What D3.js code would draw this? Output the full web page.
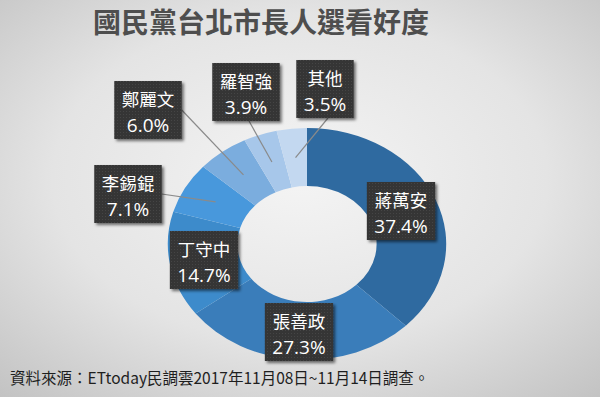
<!DOCTYPE html>
<html>
<head>
<meta charset="utf-8">
<script src="https://cdn.jsdelivr.net/npm/d3@7"></script>
<style>
  body { margin: 0; }
  svg { display: block; }
</style>
</head>
<body>
<svg id="chart" width="600" height="397"></svg>
<script>
// data
const names = ['蔣萬安', '張善政', '丁守中', '李錫錕', '鄭麗文', '羅智強', '其他'];
const shares = [37.4, 27.3, 14.7, 7.1, 6.0, 3.9, 3.5];
const colors = ['#2f6aa0', '#3a7dba', '#3d8bcb', '#4898dc', '#7badde', '#a7c7ea', '#c3d8f0'];

// label box centres and where the leader line leaves the box (layout only)
const boxCenters = [[401, 211], [299, 332], [204, 260], [128, 194], [148, 110], [246, 92], [325, 89]];
const anchors = [null, null, null, 'right', 'right', 'bottom', 'bottom'];

const title = '國民黨台北市長人選看好度';
const source = '資料來源：ETtoday民調雲2017年11月08日~11月14日調查。';

const svg = d3.select('#chart');
const defs = svg.append('defs');

const bg = defs.append('radialGradient').attr('id', 'bg')
  .attr('cx', '50%').attr('cy', '45%').attr('r', '75%');
bg.append('stop').attr('offset', '0%').attr('stop-color', '#f4f4f4');
bg.append('stop').attr('offset', '55%').attr('stop-color', '#e4e4e4');
bg.append('stop').attr('offset', '100%').attr('stop-color', '#c2c2c2');

const dots = defs.append('pattern').attr('id', 'dots')
  .attr('width', 3).attr('height', 3).attr('patternUnits', 'userSpaceOnUse');
dots.append('rect').attr('width', 3).attr('height', 3).attr('fill', '#363636');
dots.append('rect').attr('width', 1).attr('height', 1).attr('fill', '#454545');

const shadow = defs.append('filter').attr('id', 'shadow')
  .attr('x', '-20%').attr('y', '-20%').attr('width', '150%').attr('height', '150%');
shadow.append('feDropShadow').attr('dx', 2).attr('dy', 2).attr('stdDeviation', 1.6)
  .attr('flood-color', '#000').attr('flood-opacity', 0.55);

svg.append('rect').attr('width', 600).attr('height', 397).attr('fill', 'url(#bg)');

svg.append('text')
  .attr('x', 261).attr('y', 33)
  .attr('text-anchor', 'middle')
  .attr('font-family', '"Noto Sans CJK TC", "Noto Sans CJK SC", sans-serif')
  .attr('font-weight', 700)
  .attr('font-size', 28)
  .attr('fill', '#4e4e4e')
  .text(title);

// donut: the picture is stretched sideways, so draw a circle and scale x
const cx = 307, cy = 244, outerR = 116, innerR = 58, sx = 1.2;

const pie = d3.pie().sort(null).value(d => d);
const arcs = pie(shares);
const arc = d3.arc().innerRadius(innerR).outerRadius(outerR);

const donut = svg.append('g')
  .attr('transform', `translate(${cx},${cy}) scale(${sx},1)`);

donut.selectAll('path')
  .data(arcs)
  .join('path')
  .attr('d', arc)
  .attr('fill', (d, i) => colors[i]);

const toPage = p => [cx + p[0] * sx, cy + p[1]];

const fontCJK = '"Noto Sans CJK TC", "Noto Sans CJK SC", sans-serif';
const fontNum = '"Open Sans", "Noto Sans", sans-serif';
const boxH = 58;

const labels = svg.append('g');

arcs.forEach((d, i) => {
  const [bx, by] = boxCenters[i];
  const g = labels.append('g');

  const t1 = g.append('text')
    .attr('x', bx).attr('y', by - 4)
    .attr('text-anchor', 'middle')
    .attr('font-family', fontCJK).attr('font-size', 17.5)
    .attr('fill', '#fff')
    .text(names[i]);
  const t2 = g.append('text')
    .attr('x', bx).attr('y', by + 22)
    .attr('text-anchor', 'middle')
    .attr('font-family', fontNum).attr('font-size', 19)
    .attr('fill', '#fff')
    .text(d3.format('.1f')(shares[i]) + '%');

  const w = Math.max(t1.node().getComputedTextLength(), t2.node().getComputedTextLength()) + 15;

  if (anchors[i]) {
    const c = toPage(arc.centroid(d));
    const a = anchors[i] === 'right' ? [bx + w / 2, by] : [bx + 3, by + boxH / 2];
    labels.insert('line', ':first-child')
      .attr('x1', a[0]).attr('y1', a[1])
      .attr('x2', c[0]).attr('y2', c[1])
      .attr('stroke', '#8a8a8a').attr('stroke-width', 1.2);
  }

  g.insert('rect', ':first-child')
    .attr('x', bx - w / 2).attr('y', by - boxH / 2)
    .attr('width', w).attr('height', boxH)
    .attr('fill', 'url(#dots)')
    .attr('filter', 'url(#shadow)');
});

svg.append('text')
  .attr('x', 10).attr('y', 384)
  .attr('font-family', fontCJK)
  .attr('font-size', 15.5)
  .attr('fill', '#1e1e1e')
  .text(source);
</script>
</body>
</html>
